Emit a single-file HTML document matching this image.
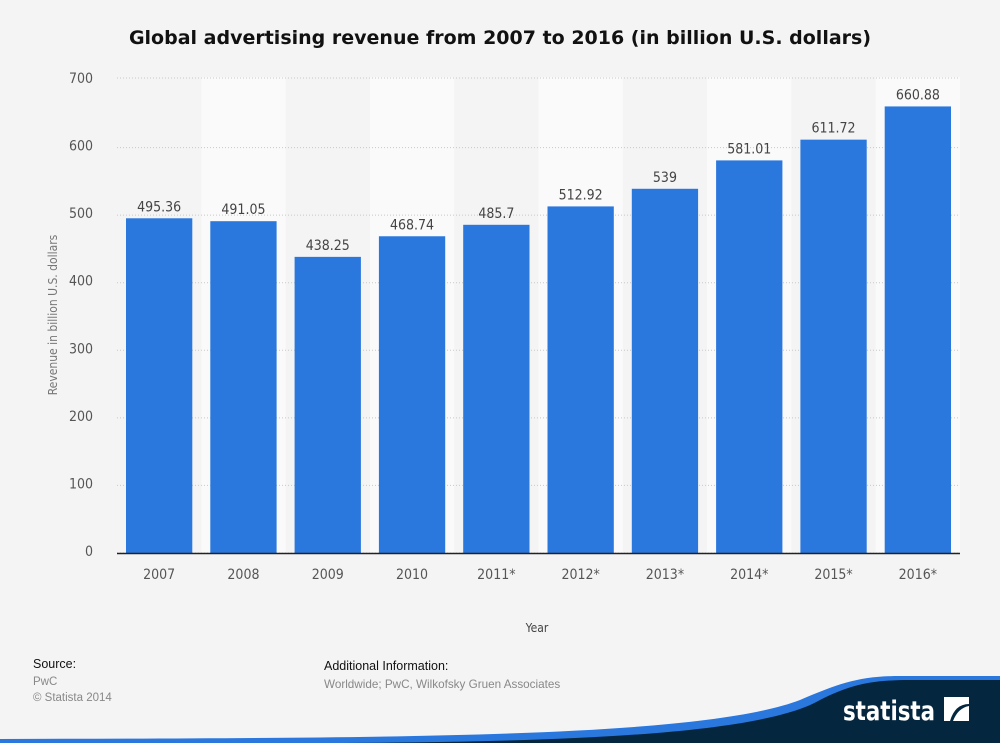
<!DOCTYPE html>
<html><head><meta charset="utf-8"><style>
body{margin:0;width:1000px;height:743px;background:#f4f4f4;font-family:"Liberation Sans","DejaVu Sans",sans-serif;overflow:hidden;position:relative}
.t{position:absolute}
</style></head><body>
<div class="t" style="left:0;width:1000px;top:27px;text-align:center;font-size:19px;font-weight:bold;color:#111;font-family:'DejaVu Sans',sans-serif">Global advertising revenue from 2007 to 2016 (in billion U.S. dollars)</div>
<svg id="c" width="1000" height="743" style="position:absolute;left:0;top:0" font-family="DejaVu Sans Condensed, DejaVu Sans, sans-serif"></svg>
<div class="t" style="left:33px;top:657px;font-size:12.5px;color:#111">Source:</div>
<div class="t" style="left:33px;top:674px;font-size:11.5px;color:#888;line-height:16px">PwC<br>© Statista 2014</div>
<div class="t" style="left:324px;top:659px;font-size:12.5px;color:#111">Additional Information:</div>
<div class="t" style="left:324px;top:678px;font-size:11.7px;color:#888">Worldwide; PwC, Wilkofsky Gruen Associates</div>
<script>
const categories=["2007","2008","2009","2010","2011*","2012*","2013*","2014*","2015*","2016*"];
const values=[495.36,491.05,438.25,468.74,485.7,512.92,539,581.01,611.72,660.88];
const valueLabels=["495.36","491.05","438.25","468.74","485.7","512.92","539","581.01","611.72","660.88"];
const yTicks=[0,100,200,300,400,500,600,700];
const NS="http://www.w3.org/2000/svg";
const svg=document.getElementById('c');
const x0=117,x1=960,yb=553,yt=80,ymax=700;
const bw=(x1-x0)/categories.length;
const y=v=>yb-(v/ymax)*(yb-yt);
const xb=i=>x0+i*bw;
function mk(t,a,p){const e=document.createElementNS(NS,t);for(const k in a)e.setAttribute(k,a[k]);(p||svg).appendChild(e);return e;}
categories.forEach((c,i)=>{if(i%2==1){const r=mk('rect',{x:xb(i),y:yt-3,width:bw,height:yb-yt+3,fill:'#fafafa'});

}});
yTicks.forEach(v=>{const l=mk('line',{x1:x0,x2:x1,y1:y(v)-(v===700?2:0),y2:y(v)-(v===700?2:0),stroke:'#c8c8c8','stroke-dasharray':'1,2'});


const t=mk('text',{x:93,y:y(v)+3,'text-anchor':'end','font-size':14,fill:'#555'});t.textContent=v;

});
values.forEach((v,i)=>{const r=mk('rect',{x:xb(i)+9,y:y(v),width:bw-18,height:yb-y(v),fill:'#2a77dd'});


const t=mk('text',{x:xb(i)+bw/2,y:y(v)-7,'text-anchor':'middle','font-size':14,fill:'#444'});t.textContent=valueLabels[i];


const c=mk('text',{x:xb(i)+bw/2,y:579,'text-anchor':'middle','font-size':14,fill:'#555'});c.textContent=categories[i];

});
const ax=mk('line',{x1:x0,x2:x1,y1:yb+0.5,y2:yb+0.5,stroke:'#222','stroke-width':1.5});


const xt=mk('text',{x:537,y:632,'text-anchor':'middle','font-size':12,fill:'#444'});xt.textContent='Year';


const yt2=mk('text',{x:0,y:0,'text-anchor':'middle','font-size':12,fill:'#777',transform:'translate(57,315) rotate(-90)'});yt2.textContent='Revenue in billion U.S. dollars';


const w1=mk('path',{d:'M0 743 L0 739 C400 738 700 738 800 700 C840 683 860 676 900 676 L1000 676 L1000 743 Z',fill:'#2a77dd'});


const w2=mk('path',{d:'M300 743 C560 743 760 735 820 700 C850 685 870 680 910 680 L1000 680 L1000 743 Z',fill:'#04263f'});


const lg=mk('text',{x:843,y:720,'font-size':27,'font-weight':'bold',fill:'#fff','font-family':'DejaVu Sans Condensed, DejaVu Sans, sans-serif',textLength:92,lengthAdjust:'spacingAndGlyphs'});lg.textContent='statista';


const ic=mk('path',{d:'M944 697 L969 697 L969 704 Q955 704 950 721 L944 721 Z M969 706 L969 721 L953 721 Q958 708 969 706 Z',fill:'#fff'});


</script>
</body></html>
